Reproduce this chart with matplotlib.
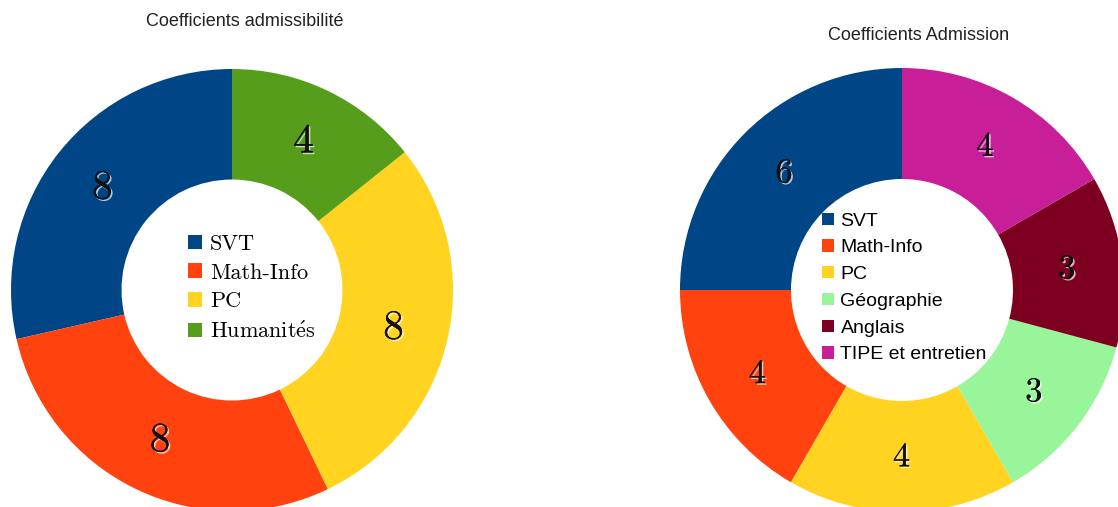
import numpy as np
import matplotlib.pyplot as plt
import matplotlib.patheffects as pe

plt.rcParams['mathtext.fontset'] = 'cm'

# Données
matieres_adm = ['SVT', 'Math-Info', 'PC', r'Humanit$\acute{\mathrm{e}}$s']
coef_adm = [8, 8, 8, 4]
couleurs_adm = ['#004586', '#ff420e', '#ffd320', '#579d1c']

matieres_oral = ['SVT', 'Math-Info', 'PC', 'Géographie', 'Anglais', 'TIPE et entretien']
coef_oral = [6, 4, 4, 3, 3, 4]
couleurs_oral = ['#004586', '#ff420e', '#ffd320', '#98f59a', '#7e0021', '#c81e98']

W, H = 1118, 507
fig = plt.figure(figsize=(W / 100, H / 100), dpi=100)
ax = fig.add_axes([0, 0, 1, 1])

ombre = [pe.withSimplePatchShadow(offset=(1.2, -1.2), shadow_rgbFace='white', alpha=0.7),
         pe.Normal()]


def donut(valeurs, couleurs, centre, rayon, trou, taille):
    wedges, _ = ax.pie(valeurs, colors=couleurs, startangle=90, counterclock=True,
                       center=centre, radius=rayon, frame=True,
                       wedgeprops=dict(width=rayon * (1 - trou), linewidth=0))
    # étiquettes au milieu de l'anneau
    total = sum(valeurs)
    a0 = 90.0
    rl = rayon * (1 + trou) / 2
    for v in valeurs:
        a = np.deg2rad(a0 + 180.0 * v / total)
        ax.text(centre[0] + rl * np.cos(a), centre[1] + rl * np.sin(a), '$%d$' % v,
                ha='center', va='center', fontsize=taille, color='#111111',
                path_effects=ombre)
        a0 += 360.0 * v / total
    return wedges


w1 = donut(coef_adm, couleurs_adm, (232, H - 290), 221, 0.5, 30)
w2 = donut(coef_oral, couleurs_oral, (902, H - 290), 222, 0.5, 25)
ax.set_xlim(0, W)
ax.set_ylim(0, H)
ax.set_aspect('equal')
ax.axis('off')

leg1 = ax.legend(w1, matieres_adm, loc='center left', bbox_to_anchor=(188, H - 288),
                 bbox_transform=ax.transData, frameon=False,
                 prop={'family': 'cmr10', 'size': 16},
                 handlelength=0.65, handleheight=0.65, handletextpad=0.35,
                 labelspacing=0.42, borderpad=0, borderaxespad=0)
ax.add_artist(leg1)
ax.legend(w2, matieres_oral, loc='center left', bbox_to_anchor=(822, H - 288),
          bbox_transform=ax.transData, frameon=False,
          prop={'family': 'Liberation Sans', 'size': 14},
          handlelength=0.6, handleheight=0.6, handletextpad=0.35,
          labelspacing=0.5, borderpad=0, borderaxespad=0)

ax.text(245, H - 22, 'Coefficients admissibilité', ha='center', va='center',
        fontsize=13, family='Liberation Sans', color='#222222')
ax.text(919, H - 36, 'Coefficients Admission', ha='center', va='center',
        fontsize=13, family='Liberation Sans', color='#222222')

fig.savefig('out.png', dpi=100)
